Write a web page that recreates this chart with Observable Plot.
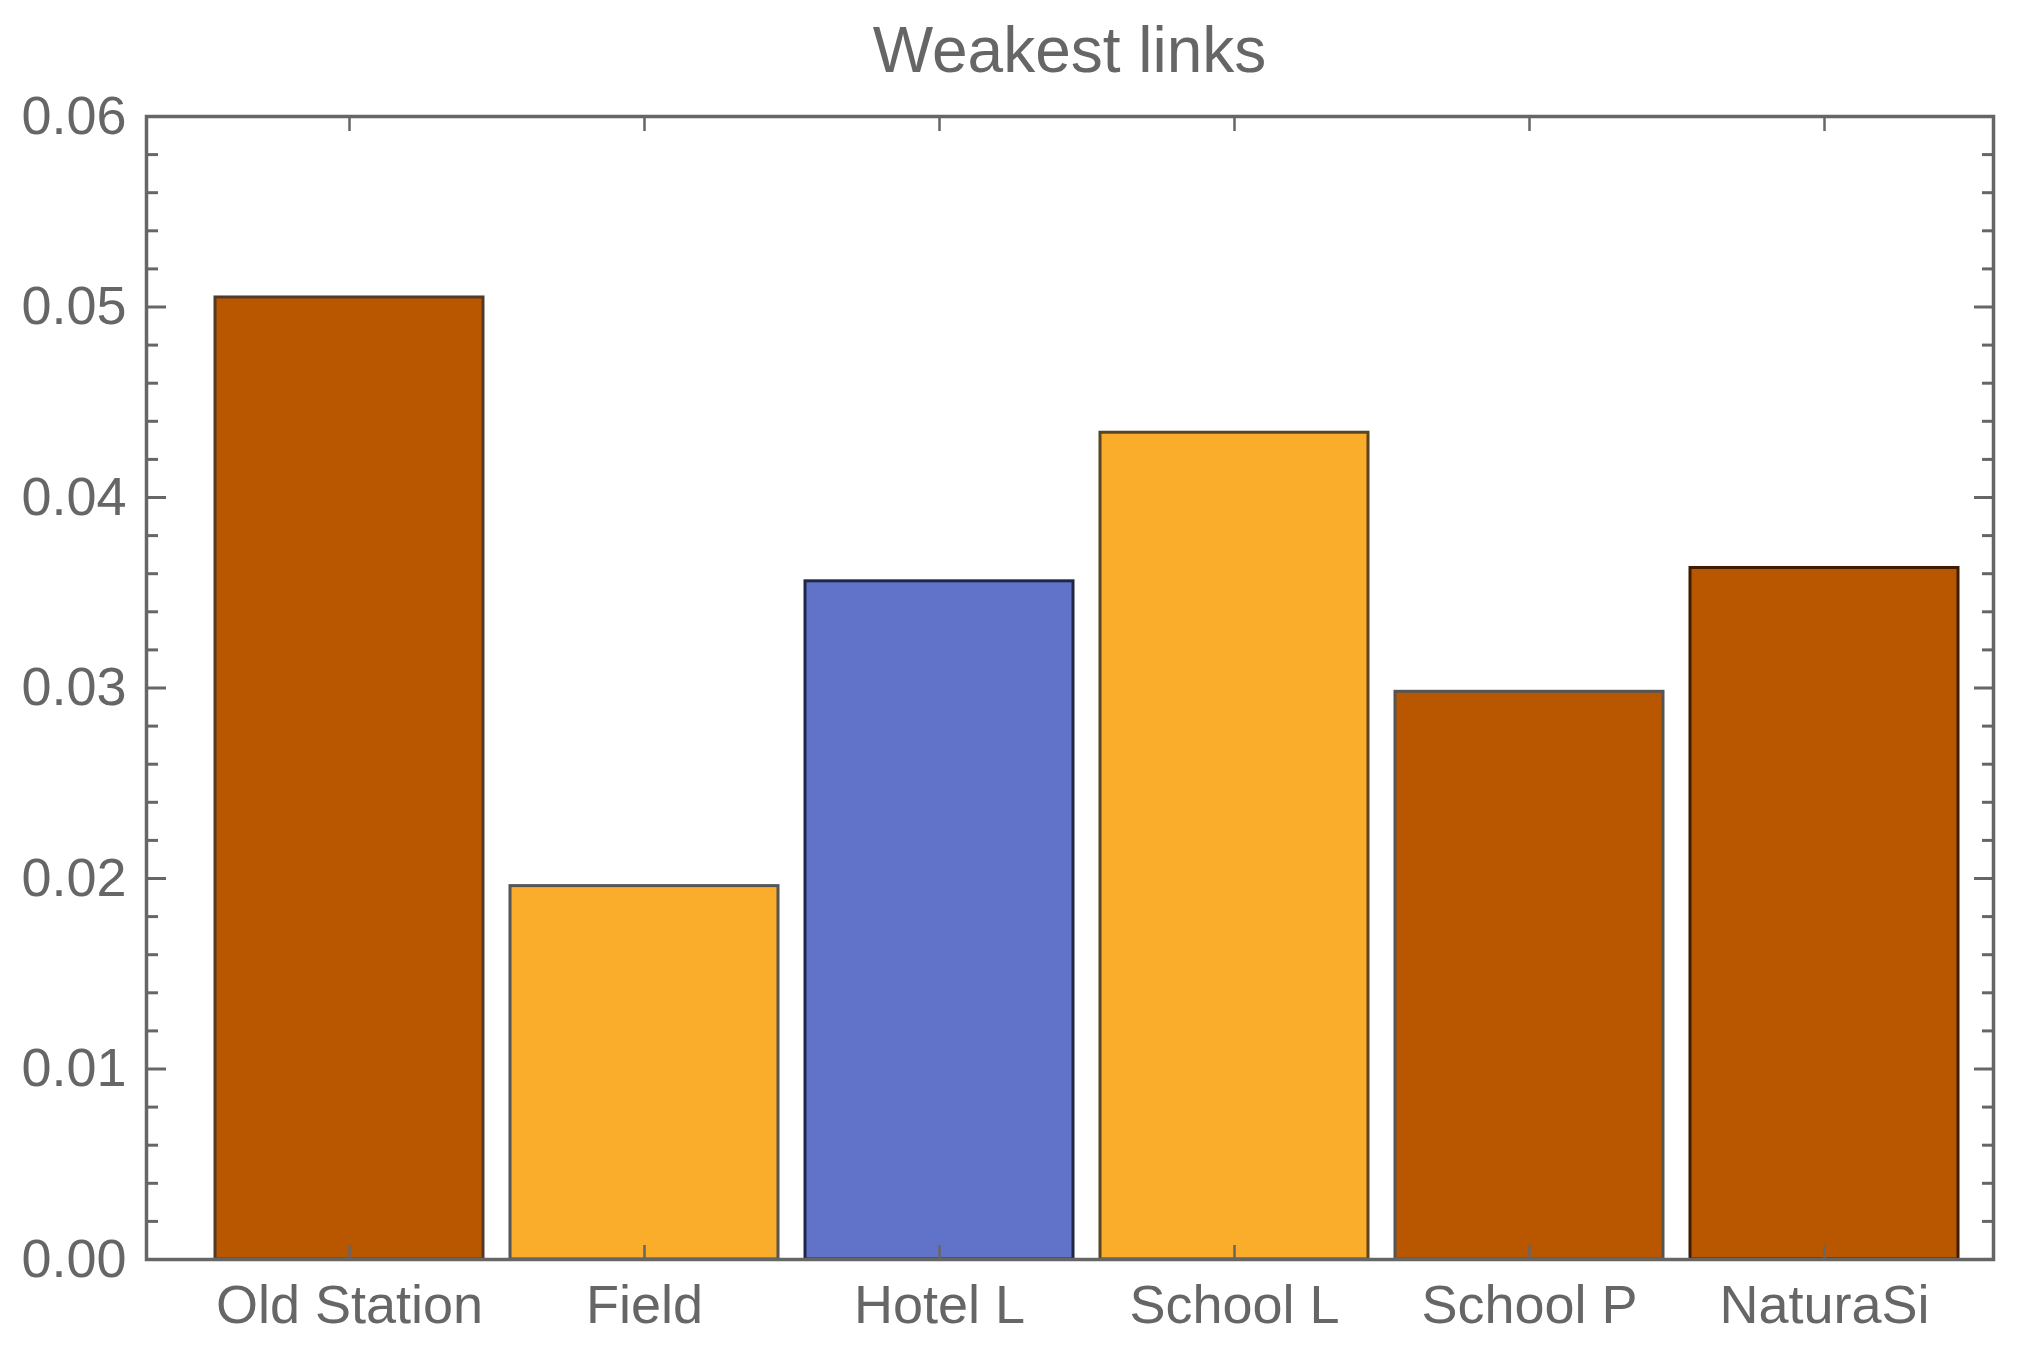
<!DOCTYPE html>
<html>
<head>
<meta charset="utf-8">
<script src="https://cdn.jsdelivr.net/npm/d3@7"></script>
<script src="https://cdn.jsdelivr.net/npm/@observablehq/plot@0.6"></script>
<style>
  html, body { margin: 0; padding: 0; background: #fff; overflow: hidden; }
  #title {
    height: 60px; line-height: 100px; margin-left: 146px; width: 1847px;
    text-align: center; font-family: "Liberation Sans", Arial, sans-serif;
    font-size: 64px; color: #666; white-space: nowrap;
  }
  #chart svg { overflow: visible; display: block; }
</style>
</head>
<body>
<div id="title">Weakest links</div>
<div id="chart"></div>
<script>
// ---- data ----
const categories = ["Old Station", "Field", "Hotel L", "School L", "School P", "NaturaSi"];
const values = [0.0505, 0.0196, 0.0356, 0.0434, 0.0298, 0.0363];
const yMajorTicks = [0, 0.01, 0.02, 0.03, 0.04, 0.05, 0.06];
const yMinorTicks = [0.002, 0.004, 0.006, 0.008, 0.012, 0.014, 0.016, 0.018,
                     0.022, 0.024, 0.026, 0.028, 0.032, 0.034, 0.036, 0.038,
                     0.042, 0.044, 0.046, 0.048, 0.052, 0.054, 0.056, 0.058];

// ---- styles ----
const barFill = {
  "Old Station": "#b95700", "Field": "#faac2b", "Hotel L": "#6173c8",
  "School L": "#faac2b", "School P": "#b95700", "NaturaSi": "#b95700"
};
const barEdge = {
  "Old Station": "#523a28", "Field": "#555555", "Hotel L": "#1f2747",
  "School L": "#5b4520", "School P": "#555555", "NaturaSi": "#3f1c00"
};
const axisGray = "#666666";
const font = "Liberation Sans, Arial, sans-serif";

const data = categories.map((name, i) => ({name, value: values[i]}));

const chart = Plot.plot({
  width: 2020,
  height: 1294,
  marginTop: 56,
  marginBottom: 95,
  marginLeft: 146,
  marginRight: 27,
  style: {fontFamily: font, fontSize: "54px", color: axisGray, background: "transparent", overflow: "visible"},
  x: {domain: categories, range: [214, 1958], paddingInner: 0.0925, paddingOuter: 0, axis: null, label: null},
  y: {domain: [0, 0.06], axis: null, label: null},
  color: {type: "identity"},
  marks: [
    Plot.barY(data, {
      x: "name", y: "value",
      fill: d => barFill[d.name],
      stroke: d => barEdge[d.name],
      strokeWidth: 3
    }),
    // minor ticks (left/right)
    Plot.axisY({anchor: "left", ticks: yMinorTicks, tickSize: 12, dx: 12, fill: "none", stroke: axisGray, strokeWidth: 3, label: null}),
    Plot.axisY({anchor: "right", ticks: yMinorTicks, tickSize: 12, dx: -12, fill: "none", stroke: axisGray, strokeWidth: 3, label: null}),
    // major ticks (left/right)
    Plot.axisY({anchor: "left", ticks: yMajorTicks, tickSize: 20, dx: 20, fill: "none", stroke: axisGray, strokeWidth: 3, label: null}),
    Plot.axisY({anchor: "right", ticks: yMajorTicks, tickSize: 20, dx: -20, fill: "none", stroke: axisGray, strokeWidth: 3, label: null}),
    // x ticks (bottom/top)
    Plot.axisX({anchor: "bottom", tickSize: 14, dy: -14, fill: "none", stroke: axisGray, strokeWidth: 2.5, label: null}),
    Plot.axisX({anchor: "top", tickSize: 14, dy: 14, fill: "none", stroke: axisGray, strokeWidth: 2.5, label: null}),
    // labels
    Plot.axisY({anchor: "left", ticks: yMajorTicks, tickSize: 0, tickPadding: 20,
      tickFormat: d3.format(".2f"), fill: axisGray, fontSize: 54, label: null}),
    Plot.axisX({anchor: "bottom", tickSize: 0, tickPadding: 25, fill: axisGray, fontSize: 54, label: null}),
    Plot.frame({stroke: axisGray, strokeWidth: 3.5})
  ]
});
document.getElementById("chart").appendChild(chart);
</script>
</body>
</html>
